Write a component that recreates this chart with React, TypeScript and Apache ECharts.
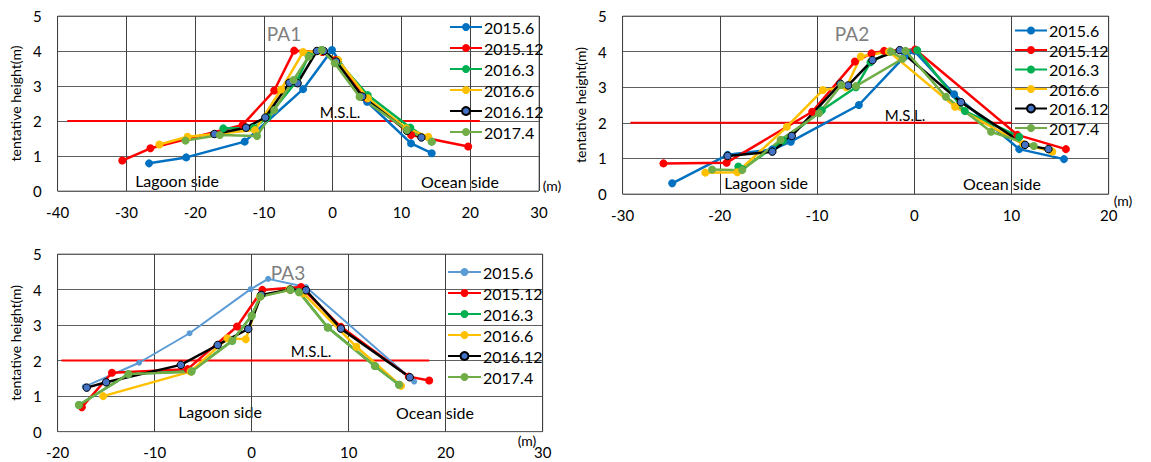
import React, { useEffect, useRef } from "react";
import * as echarts from "echarts";

// ---------- data ----------
const seriesNames = ["2015.6", "2015.12", "2016.3", "2016.6", "2016.12", "2017.4"];
const yTicksMax = 5;

// PA1
const pa1_2015_6 = [[-26.7, 0.79], [-21.3, 0.96], [-12.8, 1.41], [-4.3, 2.91], [-0.1, 4.03], [5, 2.55], [11.4, 1.36], [14.4, 1.08]];
const pa1_2015_12 = [[-30.6, 0.87], [-26.5, 1.22], [-13.1, 1.89], [-8.5, 2.87], [-5.6, 4.01], [-1.5, 3.97], [0.5, 3.75], [5, 2.65], [11.4, 1.6], [19.7, 1.27]];
const pa1_2016_3 = [[-15.9, 1.79], [-11.5, 1.8], [-9.5, 2.1], [-5.2, 3.15], [-3.5, 3.86], [-1.6, 4.03], [0.8, 3.7], [5.1, 2.74], [11.3, 1.81], [14.4, 1.41]];
const pa1_2016_6 = [[-25.2, 1.33], [-21.1, 1.55], [-11.3, 1.74], [-7.5, 2.9], [-4.3, 3.97], [-1.8, 4.0], [0.8, 3.74], [5.1, 2.65], [10.7, 1.79], [13.9, 1.55]];
const pa1_2016_12 = [[-17.2, 1.63], [-12.6, 1.81], [-9.8, 2.1], [-6.3, 3.09], [-5.1, 3.08], [-2.3, 4.0], [-1.3, 4.0], [0.5, 3.7], [4.3, 2.7], [10.8, 1.72], [12.9, 1.53]];
const pa1_2017_4 = [[-21.4, 1.44], [-16.4, 1.6], [-11, 1.57], [-8.5, 2.31], [-5.7, 3.17], [-3.5, 3.84], [-1.6, 4.03], [0.3, 3.65], [3.9, 2.69], [10.8, 1.74], [14.4, 1.41]];
const pa1_msl = [[-38.6, 2], [21.4, 2]];

// PA2
const pa2_2015_6 = [[-24.9, 0.3], [-19.2, 1.1], [-14.6, 1.25], [-12.7, 1.47], [-5.7, 2.5], [-1.0, 3.86], [0, 4.02], [4.1, 2.8], [10.8, 1.26], [15.4, 0.98]];
const pa2_2015_12 = [[-25.8, 0.86], [-19.3, 0.88], [-10.5, 2.31], [-6.1, 3.72], [-4.4, 3.95], [-3.1, 4.02], [0.1, 4.06], [10.6, 1.66], [15.6, 1.26]];
const pa2_2016_3 = [[-18.1, 0.77], [-17.7, 0.7], [-13.5, 1.5], [-9.5, 2.35], [-6.0, 3.0], [-4.5, 3.7], [-2.5, 4.0], [0.3, 4.04], [5.2, 2.33], [10.8, 1.61]];
const pa2_2016_6 = [[-21.5, 0.6], [-18.2, 0.61], [-13.1, 1.89], [-9.4, 2.92], [-7.0, 3.0], [-5.5, 3.86], [-2.6, 4.0], [4.2, 2.45], [11.2, 1.4], [14.2, 1.19]];
const pa2_2016_12 = [[-19.2, 1.07], [-14.6, 1.19], [-12.6, 1.63], [-7.6, 3.1], [-6.8, 3.05], [-4.3, 3.76], [-1.5, 4.04], [4.8, 2.58], [11.4, 1.38], [13.8, 1.26]];
const pa2_2017_4 = [[-20.8, 0.69], [-17.7, 0.67], [-13.75, 1.52], [-9.8, 2.27], [-7.5, 3.06], [-6, 3.03], [-1.2, 3.8], [-2.4, 4.0], [-0.9, 4.02], [3.25, 2.73], [7.9, 1.75], [12.3, 1.35]];
const pa2_msl = [[-29.2, 2], [10, 2]];

// PA3
const pa3_2015_6 = [[-17.2, 1.27], [-11.6, 1.94], [-6.4, 2.77], [-0.1, 4.01], [1.7, 4.3], [5.6, 4.07], [16.75, 1.41]];
const pa3_2015_12 = [[-17.5, 0.69], [-14.4, 1.66], [-6.6, 1.76], [-1.5, 2.96], [1.1, 3.99], [5.1, 4.07], [9.2, 2.95], [16.2, 1.55], [18.3, 1.44]];
const pa3_2016_3 = [[-17.8, 0.75], [-12.7, 1.62], [-6.2, 1.7], [-2.0, 2.56], [0, 3.26], [0.9, 3.82], [4.0, 4.0], [4.9, 3.93], [7.85, 2.93], [12.7, 1.85], [15.2, 1.32]];
const pa3_2016_6 = [[-15.3, 1.0], [-6.3, 1.69], [-2.5, 2.63], [-0.6, 2.6], [0.85, 3.8], [3.9, 4.01], [5.3, 3.9], [10.8, 2.39], [15.4, 1.29]];
const pa3_2016_12 = [[-17.0, 1.24], [-15.0, 1.39], [-7.3, 1.88], [-3.5, 2.44], [-0.35, 2.89], [1.0, 3.85], [4.0, 4.0], [5.6, 3.98], [9.2, 2.9], [16.3, 1.53]];
const pa3_2017_4 = [[-17.8, 0.75], [-12.7, 1.62], [-6.2, 1.69], [-2.0, 2.56], [0, 3.26], [0.9, 3.8], [4.0, 3.99], [4.9, 3.92], [7.85, 2.93], [12.7, 1.85], [15.2, 1.32]];
const pa3_msl = [[-19.6, 2], [18.3, 2]];

const FONT = 'Lato, "Noto Sans", sans-serif';

const COLORS: Record<string, string> = {
  "2015.6": "#0070C0",
  "2015.12": "#FF0000",
  "2016.3": "#00B050",
  "2016.6": "#FFC000",
  "2016.12": "#000000",
  "2017.4": "#70AD47",
};

function makeSeries(name: string, data: number[][], light = false) {
  const isBlack = name === "2016.12";
  let color = COLORS[name];
  const thin = light && name === "2015.6";
  if (thin) color = "#5B9BD5";
  return {
    name,
    type: "line",
    data,
    symbol: "circle",
    symbolSize: thin ? 6 : isBlack ? 7.5 : 8,
    lineStyle: { color, width: thin ? 2 : 2.5 },
    itemStyle: isBlack
      ? { color: "#4472C4", borderColor: "#000", borderWidth: 1 }
      : { color, borderWidth: 0 },
    z: 3,
  };
}

function mslSeries(data: number[][]) {
  return {
    name: "MSL",
    type: "line",
    data,
    symbol: "none",
    lineStyle: { color: "#FF0000", width: 2 },
    z: 2,
    silent: true,
  };
}

type Cfg = {
  xMin: number;
  xMax: number;
  grid: { left: number; top: number; width: number; height: number };
  legend: { left: number; top: number; lineHeight: number; gap: number; itemWidth: number };
  series: any[];
  texts: { text: string; x: number; y: number; size: number; color?: string }[];
};

function buildOption(c: Cfg) {
  return {
    animation: false,
    backgroundColor: "#fff",
    grid: {
      left: c.grid.left,
      top: c.grid.top,
      width: c.grid.width,
      height: c.grid.height,
      show: true,
      borderColor: "#808080",
      borderWidth: 1,
    },
    xAxis: {
      type: "value",
      min: c.xMin,
      max: c.xMax,
      interval: 10,
      axisLine: { show: false },
      axisTick: { show: false },
      axisLabel: { fontSize: 15, fontFamily: FONT, color: "#000", margin: 13 },
      splitLine: { show: true, lineStyle: { color: "#404040", width: 1 } },
    },
    yAxis: {
      type: "value",
      min: 0,
      max: yTicksMax,
      interval: 1,
      name: "tentative height(m)",
      nameLocation: "middle",
      nameRotate: 90,
      nameGap: 35,
      nameTextStyle: { fontSize: 14, fontFamily: FONT, color: "#000" },
      axisLine: { show: false },
      axisTick: { show: false },
      axisLabel: { fontSize: 15, fontFamily: FONT, color: "#000", margin: 16 },
      splitLine: { show: true, lineStyle: { color: "#606060", width: 1 } },
    },
    legend: {
      orient: "vertical",
      left: c.legend.left,
      top: c.legend.top,
      padding: 0,
      itemWidth: c.legend.itemWidth,
      itemHeight: 10,
      itemGap: c.legend.gap,
      textStyle: { fontSize: 16, fontFamily: FONT, color: "#000", lineHeight: c.legend.lineHeight, padding: [0, 0, 0, -3] },
      data: seriesNames,
    },
    graphic: c.texts.map((t) => ({
      type: "text",
      x: t.x,
      y: t.y,
      silent: true,
      style: {
        text: t.text,
        fontSize: t.size,
        fontFamily: FONT,
        fill: t.color || "#000",
        align: "center",
        verticalAlign: "middle",
      },
    })),
    series: c.series,
  };
}

const cfg1: Cfg = {
  xMin: -40,
  xMax: 30,
  grid: { left: 49, top: 16, width: 490, height: 175 },
  legend: { left: 449, top: 17, lineHeight: 20, gap: 1, itemWidth: 32 },
  series: [
    mslSeries(pa1_msl),
    makeSeries("2015.6", pa1_2015_6),
    makeSeries("2015.12", pa1_2015_12),
    makeSeries("2016.3", pa1_2016_3),
    makeSeries("2016.6", pa1_2016_6),
    makeSeries("2016.12", pa1_2016_12),
    makeSeries("2017.4", pa1_2017_4),
  ],
  texts: [
    { text: "PA1", x: 284, y: 33, size: 19, color: "#7f7f7f" },
    { text: "M.S.L.", x: 340, y: 112, size: 15 },
    { text: "Lagoon side", x: 177, y: 180, size: 16 },
    { text: "Ocean side", x: 460, y: 181, size: 16 },
    { text: "(m)", x: 552, y: 185, size: 14 },
  ],
};

const cfg2: Cfg = {
  xMin: -30,
  xMax: 20,
  grid: { left: 51.7, top: 16, width: 492, height: 178 },
  legend: { left: 449, top: 21, lineHeight: 19, gap: 0.5, itemWidth: 32 },
  series: [
    mslSeries(pa2_msl),
    makeSeries("2015.6", pa2_2015_6),
    makeSeries("2015.12", pa2_2015_12),
    makeSeries("2016.3", pa2_2016_3),
    makeSeries("2016.6", pa2_2016_6),
    makeSeries("2016.12", pa2_2016_12),
    makeSeries("2017.4", pa2_2017_4),
  ],
  texts: [
    { text: "PA2", x: 287, y: 33, size: 19, color: "#7f7f7f" },
    { text: "M.S.L.", x: 340, y: 115, size: 15 },
    { text: "Lagoon side", x: 201, y: 182, size: 16 },
    { text: "Ocean side", x: 437, y: 183, size: 16 },
    { text: "(m)", x: 558, y: 200, size: 14 },
  ],
};

const cfg3: Cfg = {
  xMin: -20,
  xMax: 30,
  grid: { left: 50, top: 24, width: 492.7, height: 177.7 },
  legend: { left: 447, top: 32, lineHeight: 20, gap: 1, itemWidth: 33 },
  series: [
    mslSeries(pa3_msl),
    makeSeries("2015.6", pa3_2015_6, true),
    makeSeries("2015.12", pa3_2015_12, true),
    makeSeries("2016.3", pa3_2016_3, true),
    makeSeries("2016.6", pa3_2016_6, true),
    makeSeries("2016.12", pa3_2016_12, true),
    makeSeries("2017.4", pa3_2017_4, true),
  ],
  texts: [
    { text: "PA3", x: 288, y: 42, size: 19, color: "#7f7f7f" },
    { text: "M.S.L.", x: 311, y: 121, size: 15 },
    { text: "Lagoon side", x: 220, y: 181, size: 16 },
    { text: "Ocean side", x: 435, y: 182, size: 16 },
    { text: "(m)", x: 527, y: 210, size: 14 },
  ],
};

function Chart({ cfg, style }: { cfg: Cfg; style: React.CSSProperties }) {
  const ref = useRef<HTMLDivElement>(null);
  useEffect(() => {
    if (!ref.current) return;
    const chart = echarts.init(ref.current, undefined, { renderer: "svg" });
    chart.setOption(buildOption(cfg) as any);
    return () => chart.dispose();
  }, [cfg]);
  return <div ref={ref} style={{ position: "absolute", ...style }} />;
}

export default function App() {
  return (
    <div style={{ position: "absolute", left: 0, top: 0, width: 1151, height: 462, background: "#fff" }}>
      <Chart cfg={cfg1} style={{ left: 0, top: 0, width: 565, height: 230 }} />
      <Chart cfg={cfg2} style={{ left: 565, top: 0, width: 586, height: 230 }} />
      <Chart cfg={cfg3} style={{ left: 0, top: 230, width: 565, height: 232 }} />
    </div>
  );
}
